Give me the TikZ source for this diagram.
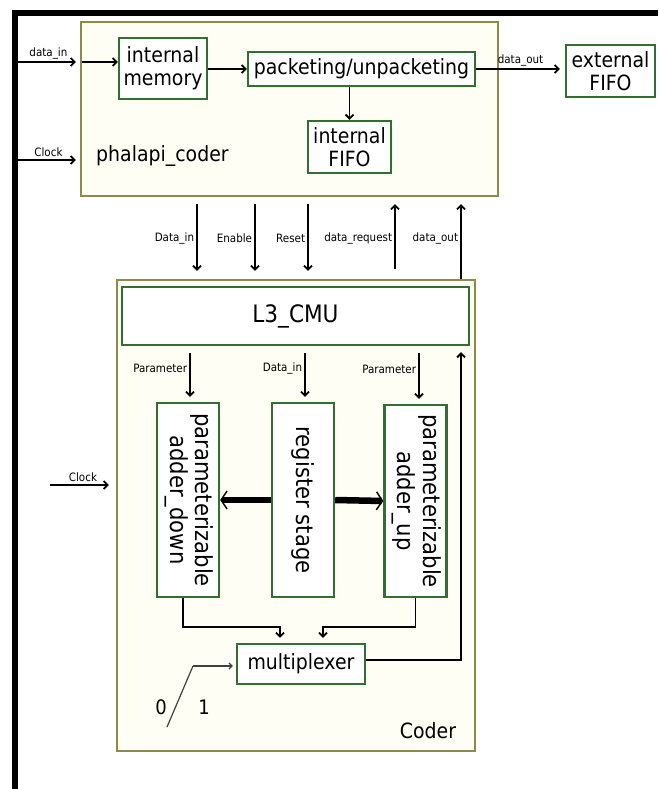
\documentclass[tikz,border=0pt]{standalone}
\usepackage{fontspec}
\setmainfont{DejaVu Sans}[FakeStretch=0.9]
\usepackage{graphicx}
\usetikzlibrary{arrows.meta}

\definecolor{boxgreen}{RGB}{50,110,50}
\definecolor{outerolive}{RGB}{140,140,72}
\definecolor{outerfill}{RGB}{254,254,245}

\begin{document}
\begin{tikzpicture}[x=1pt, y=-1pt,
  outerbox/.style={draw=outerolive, fill=outerfill, line width=2.2pt, inner sep=0pt},
  block/.style={draw=boxgreen, fill=white, line width=2.4pt, inner sep=1pt, align=center,
    font=\fontsize{21}{23}\selectfont},
  vblock/.style={block, minimum width=62pt, minimum height=194pt, font=\fontsize{23.5}{25}\selectfont},
  sig/.style={line width=1.8pt, -{Straight Barb[length=4pt, width=8pt]}},
  fat/.style={line width=6.5pt, -{Straight Barb[line width=1.4pt, length=6pt, width=18pt]}},
  lbl/.style={font=\fontsize{11.5}{13}\selectfont, inner sep=2pt},
  bigtxt/.style={font=\fontsize{21}{24}\selectfont, inner sep=0pt}
]
  \useasboundingbox (0,0) rectangle (658,789);
  % ===== frame of the scan =====
  \draw[line width=6pt] (15,789) -- (15,13) -- (658,13);

  % ===== phalapi_coder =====
  \node[outerbox, minimum width=417pt, minimum height=174pt] (phal) at (289.5,109) {};
  \node[block, minimum width=88pt, minimum height=61pt] (mem) at (163,68.5) {internal\\memory};
  \node[block, minimum width=227pt, minimum height=34pt] (pack) at (361.5,69) {packeting/unpacketing};
  \node[block, minimum width=83pt, minimum height=52pt] (ififo) at (349.5,147) {internal\\FIFO};
  \node[block, minimum width=89pt, minimum height=52pt] (efifo) at (610.5,71) {external\\FIFO};
  \node[bigtxt, anchor=west] (phname) at (96,156) {phalapi\_coder};

  \coordinate (dinA) at (17,62);
  \coordinate (clkA) at (17,160);
  \draw[sig, shorten >=4pt] (dinA) -- (dinA -| phal.west) node[lbl, midway, above] {data\_in};
  \draw[sig] ([xshift=2pt]dinA -| phal.west) -- (dinA -| mem.west);
  \draw[sig, shorten >=4pt] (clkA) -- (clkA -| phal.west) node[lbl, midway, above] {Clock};
  \draw[sig] (mem.east |- pack.west) -- (pack.west);
  \draw[sig] (pack.south -| ififo.north) -- (ififo.north);
  \draw[sig, shorten >=5pt] (pack.east) -- (efifo.west |- pack.east) node[lbl, midway, above] {data\_out};

  % ===== Coder =====
  \node[outerbox, minimum width=358pt, minimum height=471pt] (coder) at (296,515.5) {};
  \node[block, minimum width=347pt, minimum height=58pt, font=\fontsize{24}{26}\selectfont] (cmu) at (295.5,316) {L3\_CMU};
  \node[vblock] (adown) at (188,500) {\rotatebox{-90}{\begin{tabular}{@{}c@{}}parameterizable\\adder\_down\end{tabular}}};
  \node[vblock] (reg) at (303,500) {\rotatebox{-90}{register stage}};
  \node[vblock, minimum height=192pt] (aup) at (415.5,501) {\rotatebox{-90}{\begin{tabular}{@{}c@{}}parameterizable\\adder\_up\end{tabular}}};
  \node[block, minimum width=128pt, minimum height=40pt] (mux) at (301,664) {multiplexer};
  \node[bigtxt] (codertxt) at (428,731) {Coder};

  % signals between the two blocks
  \foreach \xx/\txt in {197/Data\_in, 255/Enable, 308/Reset}
    \draw[sig, shorten <=7pt, shorten >=8pt] (\xx,0 |- phal.south) -- (\xx,0 |- coder.north)
      node[lbl, midway, left] {\txt};
  \draw[sig, shorten <=10pt, shorten >=7pt] (395,0 |- coder.north) -- (395,0 |- phal.south)
    node[lbl, midway, left] {data\_request};
  \draw[sig, shorten >=7pt] (461,0 |- coder.north) -- (461,0 |- phal.south)
    node[lbl, midway, left] {data\_out};

  % clock into coder
  \coordinate (clkB) at (50,485);
  \draw[sig, shorten >=7pt] (clkB) -- (clkB -| coder.west) node[lbl, midway, above] {Clock};

  % from L3_CMU to the stages
  \foreach \xx/\src/\txt in {190/adown/Parameter, 305/reg/Data\_in, 419/aup/Parameter}
    \draw[sig, shorten <=7pt, shorten >=5pt] (\xx,0 |- cmu.south) -- (\xx,0 |- \src.north)
      node[lbl, pos=0.4, left] {\txt};
  \draw[fat] (reg.west) -- (adown.east);
  \draw[fat] (reg.east) -- (aup.west);

  % into and out of the multiplexer
  \coordinate (jl) at (280,627);
  \coordinate (jr) at (323,627);
  \coordinate (ret) at (461,660);
  \draw[sig, shorten >=5pt] ([xshift=-5pt]adown.south) |- (jl) -- (jl |- mux.north);
  \draw[sig, shorten >=5pt] (aup.south) |- (jr) -- (jr |- mux.north);
  \draw[sig, shorten >=6pt] (ret -| mux.east) -- (ret) -- (ret |- cmu.south);

  % select switch
  \coordinate (swlow) at (167,727);
  \coordinate (swtop) at (193,666);
  \draw[line width=1.2pt, black!75] (swlow) -- (swtop);
  \draw[line width=1.2pt, black!75, -{Straight Barb[length=3pt, width=6pt]}, shorten >=3pt] (swtop) -- (swtop -| mux.west);
  \node[font=\fontsize{20}{22}\selectfont] (zero) at (161,707) {0};
  \node[font=\fontsize{20}{22}\selectfont] (one) at (204,707) {1};
\end{tikzpicture}
\end{document}
